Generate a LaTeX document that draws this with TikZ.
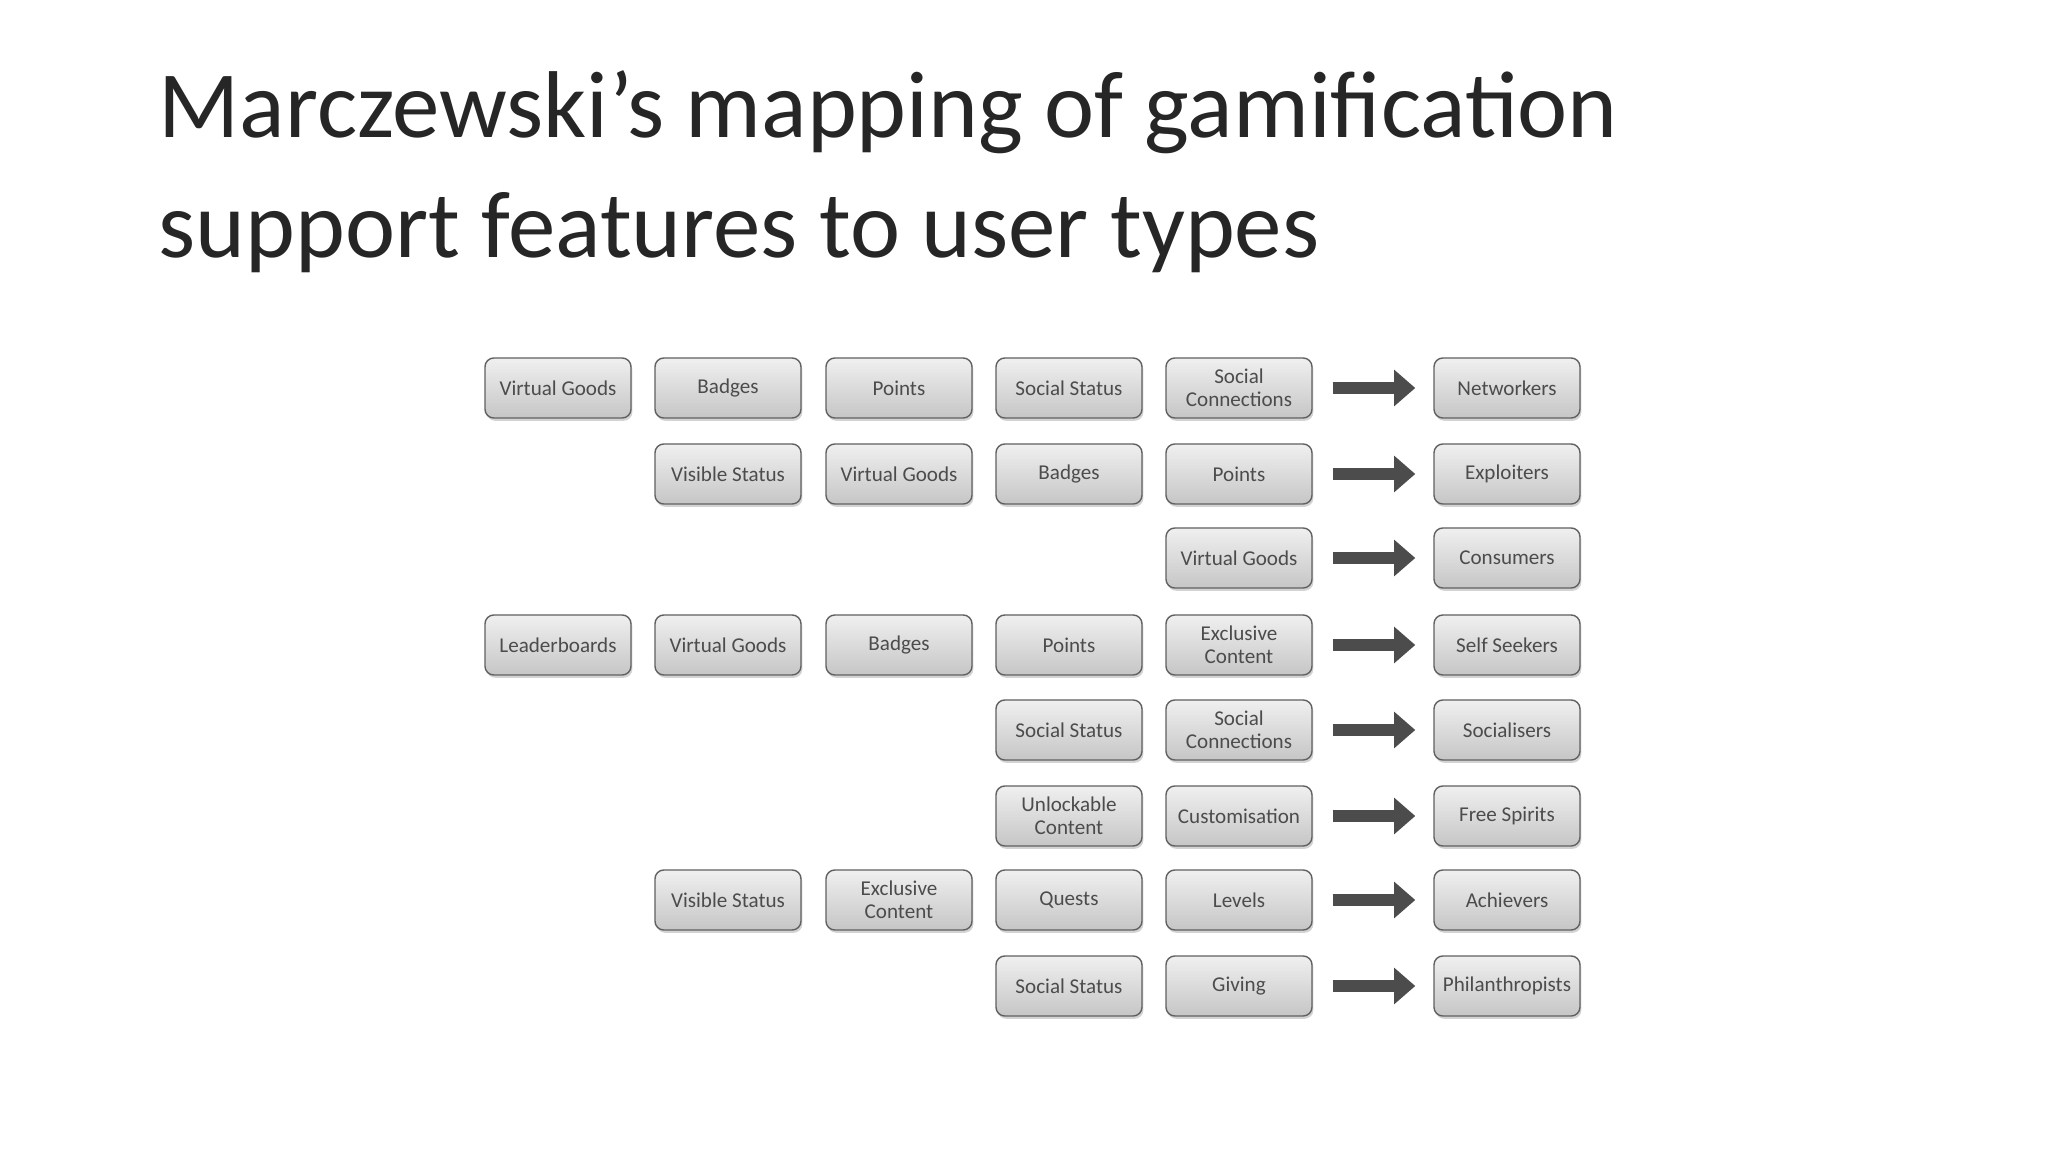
\documentclass[tikz,border=0pt]{standalone}
\usepackage{fontspec}
\setmainfont{Carlito}
\usetikzlibrary{shadows,arrows.meta}
\begin{document}
\begin{tikzpicture}[x=1cm,y=-1cm,
  box/.style={draw=gray!75!black,line width=0.4pt,rounded corners=2.5pt,
    minimum width=1.46cm,minimum height=0.6cm,top color=gray!12,bottom color=gray!45,
    drop shadow={shadow xshift=0.4pt,shadow yshift=-0.8pt,opacity=0.35},
    font=\fontsize{6}{6.5}\selectfont\color{black!70},align=center,inner sep=1pt},
  arr/.style={-{Triangle[length=6pt,width=10pt]},line width=3.5pt,draw=gray!60!black}]
\useasboundingbox (0,0) rectangle (20.48,11.52);
\node[anchor=north west,align=left,font=\fontsize{27}{34}\selectfont,text=black!85,inner sep=0] (title) at (1.58,0.7) {Marczewski’s mapping of gamification\\support features to user types};
\def\cA{5.58}\def\cB{7.28}\def\cC{8.99}\def\cD{10.69}\def\cE{12.39}\def\cU{15.07}
% row 1
\node[box] (a1) at (\cA,3.88) {Virtual Goods};
\node[box] (b1) at (\cB,3.88) {Badges};
\node[box] (c1) at (\cC,3.88) {Points};
\node[box] (d1) at (\cD,3.88) {Social Status};
\node[box] (e1) at (\cE,3.88) {Social\\Connections};
\node[box] (u1) at (\cU,3.88) {Networkers};
% row 2
\node[box] (b2) at (\cB,4.74) {Visible Status};
\node[box] (c2) at (\cC,4.74) {Virtual Goods};
\node[box] (d2) at (\cD,4.74) {Badges};
\node[box] (e2) at (\cE,4.74) {Points};
\node[box] (u2) at (\cU,4.74) {Exploiters};
% row 3
\node[box] (e3) at (\cE,5.58) {Virtual Goods};
\node[box] (u3) at (\cU,5.58) {Consumers};
% row 4
\node[box] (a4) at (\cA,6.45) {Leaderboards};
\node[box] (b4) at (\cB,6.45) {Virtual Goods};
\node[box] (c4) at (\cC,6.45) {Badges};
\node[box] (d4) at (\cD,6.45) {Points};
\node[box] (e4) at (\cE,6.45) {Exclusive\\Content};
\node[box] (u4) at (\cU,6.45) {Self Seekers};
% row 5
\node[box] (d5) at (\cD,7.30) {Social Status};
\node[box] (e5) at (\cE,7.30) {Social\\Connections};
\node[box] (u5) at (\cU,7.30) {Socialisers};
% row 6
\node[box] (d6) at (\cD,8.16) {Unlockable\\Content};
\node[box] (e6) at (\cE,8.16) {Customisation};
\node[box] (u6) at (\cU,8.16) {Free Spirits};
% row 7
\node[box] (b7) at (\cB,9.00) {Visible Status};
\node[box] (c7) at (\cC,9.00) {Exclusive\\Content};
\node[box] (d7) at (\cD,9.00) {Quests};
\node[box] (e7) at (\cE,9.00) {Levels};
\node[box] (u7) at (\cU,9.00) {Achievers};
% row 8
\node[box] (d8) at (\cD,9.86) {Social Status};
\node[box] (e8) at (\cE,9.86) {Giving};
\node[box] (u8) at (\cU,9.86) {Philanthropists};
\foreach \i in {1,...,8}{
  \draw[arr] ([xshift=0.2cm]e\i.east) -- ([xshift=-0.18cm]u\i.west);
}
\end{tikzpicture}
\end{document}
